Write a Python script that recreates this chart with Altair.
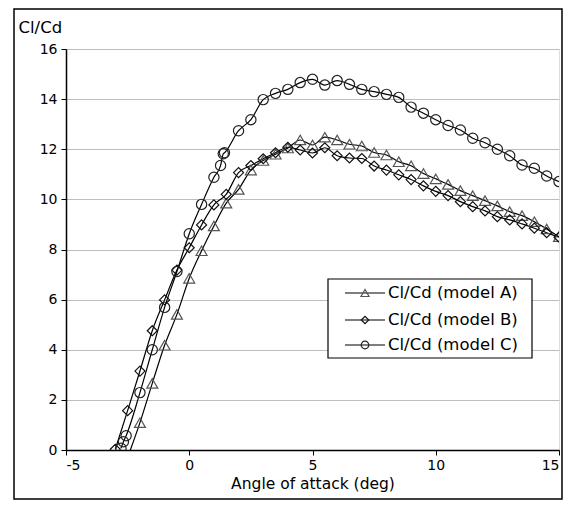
import altair as alt
import pandas as pd

# ---- data ----
alpha_A = [-2.5, -2.0, -1.5, -1.0, -0.5, 0.0, 0.5, 1.0, 1.5, 2.0, 2.5, 3.0, 3.5, 4.0, 4.5, 5.0,
           5.5, 6.0, 6.5, 7.0, 7.5, 8.0, 8.5, 9.0, 9.5, 10.0, 10.5, 11.0, 11.5, 12.0, 12.5,
           13.0, 13.5, 14.0, 14.5, 15.0]
clcd_A = [-0.3, 1.09, 2.66, 4.18, 5.41, 6.85, 7.95, 8.94, 9.85, 10.4, 11.17, 11.55, 11.8, 12.05,
          12.37, 12.17, 12.48, 12.37, 12.2, 12.13, 11.87, 11.77, 11.5, 11.34, 11.03, 10.82,
          10.6, 10.35, 10.15, 9.95, 9.74, 9.51, 9.35, 9.11, 8.82, 8.51]

alpha_B = [-3.0, -2.5, -2.0, -1.5, -1.0, -0.5, 0.0, 0.5, 1.0, 1.5, 2.0, 2.5, 3.0, 3.5, 4.0, 4.5,
           5.0, 5.5, 6.0, 6.5, 7.0, 7.5, 8.0, 8.5, 9.0, 9.5, 10.0, 10.5, 11.0, 11.5, 12.0,
           12.5, 13.0, 13.5, 14.0, 14.5, 15.0]
clcd_B = [0.03, 1.57, 3.15, 4.76, 5.99, 7.18, 8.07, 8.98, 9.78, 10.2, 11.07, 11.35, 11.62, 11.86,
          12.08, 11.97, 11.85, 12.06, 11.74, 11.65, 11.63, 11.33, 11.17, 10.98, 10.79, 10.54,
          10.32, 10.15, 9.91, 9.71, 9.54, 9.31, 9.18, 9.02, 8.85, 8.67, 8.49]

alpha_C = [-2.77, -2.67, -2.56, -2.0, -1.5, -1.0, -0.5, 0.0, 0.5, 1.0, 1.27, 1.38, 1.43, 2.0, 2.5,
           3.0, 3.5, 4.0, 4.5, 5.0, 5.5, 6.0, 6.5, 7.0, 7.5, 8.0, 8.5, 9.0, 9.5, 10.0, 10.5,
           11.0, 11.5, 12.0, 12.5, 13.0, 13.5, 14.0, 14.5, 15.0]
clcd_C = [0.07, 0.33, 0.57, 2.29, 4.0, 5.69, 7.12, 8.63, 9.8, 10.88, 11.35, 11.82, 11.86, 12.74,
          13.18, 13.98, 14.23, 14.39, 14.66, 14.79, 14.56, 14.74, 14.59, 14.39, 14.3, 14.19,
          14.07, 13.68, 13.44, 13.18, 12.95, 12.77, 12.44, 12.26, 12.0, 11.74, 11.37, 11.24,
          10.93, 10.71]

series_names = ["Cl/Cd (model A)", "Cl/Cd (model B)", "Cl/Cd (model C)"]
x_ticks = [-5, 0, 5, 10, 15]
y_ticks = [0, 2, 4, 6, 8, 10, 12, 14, 16]

FONT = "DejaVu Sans"
W, H = 493, 401

frames = []
for name, xs, ys in zip(series_names, [alpha_A, alpha_B, alpha_C], [clcd_A, clcd_B, clcd_C]):
    frames.append(pd.DataFrame({"alpha": xs, "clcd": ys, "series": name}))
df = pd.concat(frames, ignore_index=True)
one = pd.DataFrame({"k": [0]})

shapes = {"Cl/Cd (model A)": "triangle-up", "Cl/Cd (model B)": "diamond", "Cl/Cd (model C)": "circle"}
sizes = {"Cl/Cd (model A)": 120, "Cl/Cd (model B)": 100, "Cl/Cd (model C)": 105}
strokes = {"Cl/Cd (model A)": "#555555", "Cl/Cd (model B)": "#111111", "Cl/Cd (model C)": "#222222"}

xscale = alt.Scale(domain=[-5, 15], nice=False, zero=False)
yscale = alt.Scale(domain=[0, 16], nice=False)

xenc = alt.X("alpha:Q", scale=xscale,
             axis=alt.Axis(values=x_ticks, title="Angle of attack (deg)", grid=False,
                           labelExpr="datum.value + ''",
                           tickSize=5, tickColor="black", domainColor="black", domainWidth=1.5,
                           labelFontSize=14, labelFont=FONT, labelColor="black",
                           titleFont=FONT, titleFontSize=15.5, titleFontWeight="normal",
                           titleColor="black", titlePadding=4, labelPadding=3))
yenc = alt.Y("clcd:Q", scale=yscale,
             axis=alt.Axis(values=y_ticks, title="Cl/Cd", grid=True, gridColor="#bdbdbd",
                           tickSize=5, tickColor="black", domainColor="black", domainWidth=1.5,
                           labelFontSize=14, labelFont=FONT, labelColor="black", labelPadding=4,
                           titleFont=FONT, titleFontSize=16.5, titleFontWeight="normal",
                           titleColor="black", titleAngle=0, titleAlign="left",
                           titleBaseline="middle", titleX=-48, titleY=-22))

layers = []
for name in series_names:
    sub = df[df["series"] == name]
    layers.append(alt.Chart(sub).mark_line(interpolate="monotone", color="black",
                                           strokeWidth=1.2, clip=True).encode(x=xenc, y=yenc))
for name in series_names:
    sub = df[df["series"] == name]
    layers.append(alt.Chart(sub).mark_point(shape=shapes[name], size=sizes[name], filled=False,
                                            stroke=strokes[name], strokeWidth=1.2, opacity=1,
                                            clip=True).encode(x=xenc, y=yenc))

# outer chart border
border = alt.Chart(one).mark_rect(filled=False, stroke="black", strokeWidth=1.5, clip=False).encode(
    x=alt.value(-52), x2=alt.value(496), y=alt.value(-40), y2=alt.value(450))

# manual legend (line + marker + text)
leg_box = alt.Chart(one).mark_rect(fill="white", stroke="black", strokeWidth=1.2).encode(
    x=alt.value(262), x2=alt.value(466), y=alt.value(230), y2=alt.value(309))
legend_layers = [leg_box]
row_y = [244, 271, 296]
for name, ry in zip(series_names, row_y):
    legend_layers.append(alt.Chart(one).mark_rule(color="black", strokeWidth=1.2).encode(
        x=alt.value(279), x2=alt.value(319), y=alt.value(ry)))
    legend_layers.append(alt.Chart(one).mark_point(shape=shapes[name], size=sizes[name] * 0.55,
                                                  filled=False, stroke=strokes[name],
                                                  strokeWidth=1.2, opacity=1).encode(
        x=alt.value(299), y=alt.value(ry)))
    legend_layers.append(alt.Chart(one).mark_text(text=name, align="left", baseline="middle",
                                                 font=FONT, fontSize=16.5, color="black").encode(
        x=alt.value(322), y=alt.value(ry)))

chart = alt.layer(*layers, border, *legend_layers).properties(
    width=W, height=H, autosize=alt.AutoSizeParams(type="none"),
    padding={"left": 58, "top": 41, "right": 4, "bottom": 50}
).configure_view(stroke="#999999", strokeWidth=1.2).configure(background="white")

chart.save("out.html", embed_options={"renderer": "svg", "actions": False})
